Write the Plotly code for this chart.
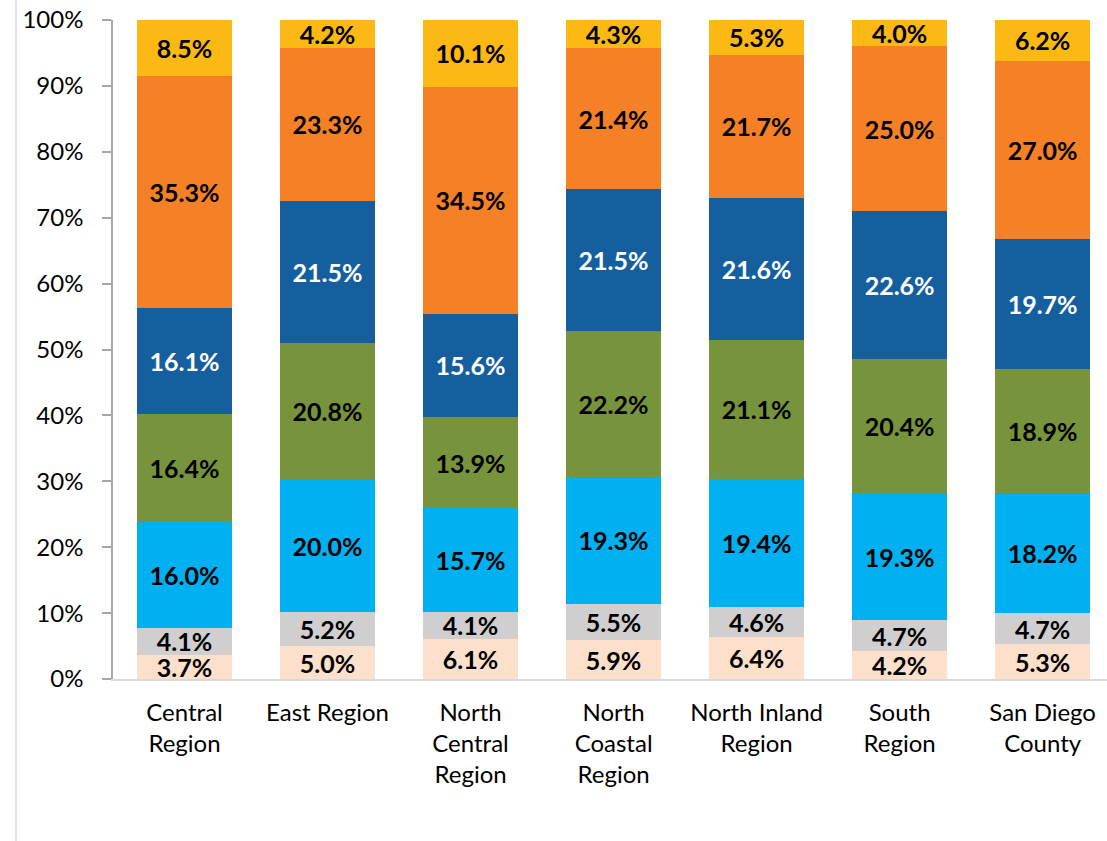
import plotly.graph_objects as go

categories = ["Central<br>Region", "East Region", "North<br>Central<br>Region",
              "North<br>Coastal<br>Region", "North Inland<br>Region",
              "South<br>Region", "San Diego<br>County"]

# segments listed bottom to top
seg1 = [3.7, 5.0, 6.1, 5.9, 6.4, 4.2, 5.3]
seg2 = [4.1, 5.2, 4.1, 5.5, 4.6, 4.7, 4.7]
seg3 = [16.0, 20.0, 15.7, 19.3, 19.4, 19.3, 18.2]
seg4 = [16.4, 20.8, 13.9, 22.2, 21.1, 20.4, 18.9]
seg5 = [16.1, 21.5, 15.6, 21.5, 21.6, 22.6, 19.7]
seg6 = [35.3, 23.3, 34.5, 21.4, 21.7, 25.0, 27.0]
seg7 = [8.5, 4.2, 10.1, 4.3, 5.3, 4.0, 6.2]

series = [seg1, seg2, seg3, seg4, seg5, seg6, seg7]
names = ["Segment 1", "Segment 2", "Segment 3", "Segment 4", "Segment 5", "Segment 6", "Segment 7"]
colors = ["#FDE0CB", "#D0CECE", "#00B0F0", "#77933C", "#155F9E", "#F58025", "#FDB913"]
text_colors = ["#000000", "#000000", "#000000", "#000000", "#FFFFFF", "#000000", "#000000"]

yticks = list(range(0, 101, 10))
ytick_labels = [f"{v}%" for v in yticks]

FONT = "Lato"

fig = go.Figure()
for vals, name, col, tcol in zip(series, names, colors, text_colors):
    fig.add_trace(go.Bar(
        x=categories, y=vals, name=name,
        marker=dict(color=col, line=dict(width=0)),
        width=0.665,
        text=[f"{v:.1f}%" for v in vals],
        textposition="inside",
        insidetextanchor="middle",
        textangle=0,
        constraintext="none",
        textfont=dict(family=FONT, size=25, color=tcol, weight="bold"),
        hoverinfo="skip",
        showlegend=False,
    ))

fig.update_layout(
    barmode="stack",
    barnorm="percent",
    width=1107, height=841,
    margin=dict(l=113, r=0, t=20, b=162, autoexpand=False),
    paper_bgcolor="white",
    plot_bgcolor="white",
    font=dict(family=FONT, color="#000000"),
    xaxis=dict(
        range=[-0.5, 6.45], automargin=False,
        showline=True, linecolor="#D9D9D9", linewidth=2,
        showgrid=False, ticks="", ticklabelstandoff=11,
        ticklabeloverflow="allow",
        tickfont=dict(family=FONT, size=24, color="#000000"),
        fixedrange=True,
    ),
    yaxis=dict(
        range=[0, 100], automargin=False,
        tickvals=yticks, ticktext=ytick_labels,
        showline=True, linecolor="#A6A6A6", linewidth=1.5,
        ticks="outside", ticklen=9, tickcolor="#A6A6A6", tickwidth=1.5,
        ticklabelstandoff=14,
        ticklabeloverflow="allow",
        showgrid=False, zeroline=False,
        tickfont=dict(family=FONT, size=24, color="#000000"),
        fixedrange=True,
    ),
    shapes=[dict(type="line", xref="paper", yref="paper",
                 x0=-97/994, x1=-97/994, y0=-162/659, y1=1+20/659,
                 line=dict(color="#D9D9D9", width=1.5))],
)

# remove the page's default body margin so the figure fills the window exactly
fig.write_html("out.html", config={"displayModeBar": False},
               post_script="document.body.style.margin='0';document.body.style.overflow='hidden';")
